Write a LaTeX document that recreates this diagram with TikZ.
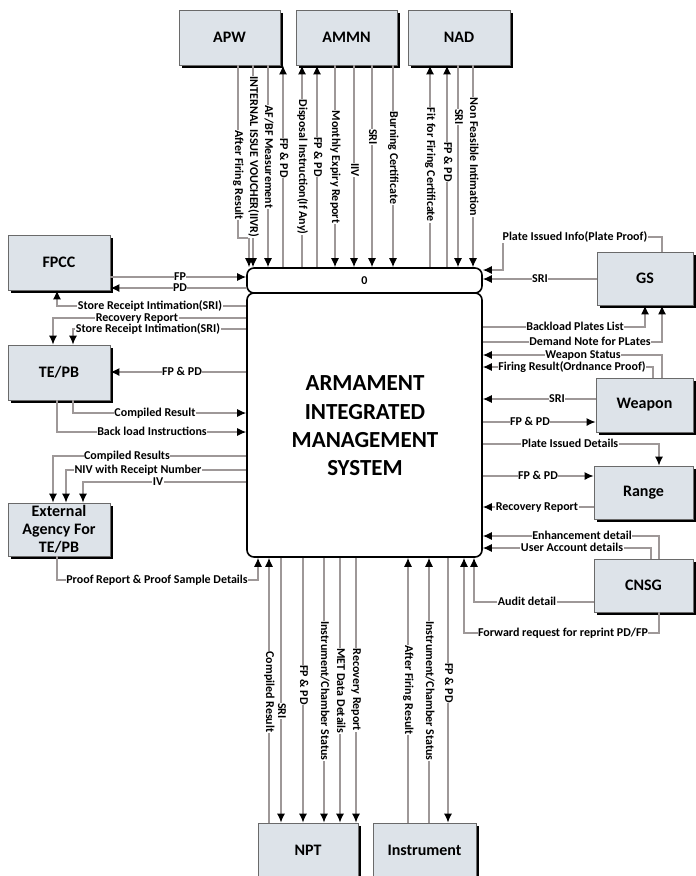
\documentclass[tikz,border=0pt]{standalone}
\usepackage{fontspec}
\setmainfont{Carlito}
\usetikzlibrary{arrows.meta,shadows}
\definecolor{boxfill}{HTML}{DDE3E9}
\definecolor{boxline}{HTML}{6A6A6A}
\definecolor{linegray}{HTML}{9E9898}
\begin{document}
\begin{tikzpicture}[x=1pt,y=-1pt,
  ext/.style={rectangle, draw=boxline, fill=boxfill, line width=0.8pt, inner sep=0pt,
    font=\fontsize{16}{18}\selectfont\bfseries, align=center,
    drop shadow={shadow xshift=3pt, shadow yshift=-3pt, fill=black, opacity=1}},
  proc/.style={rectangle, draw=black, line width=1.6pt, fill=white, rounded corners=7pt, inner sep=0pt},
  flow/.style={draw=linegray, line width=1.2pt, -{Latex[length=9pt,width=8pt,color=black]}},
  lbl/.style={fill=white, inner sep=0.5pt, text height=8pt, text depth=2pt,
    font=\fontsize{12}{12}\selectfont\bfseries, text=black},
  vlbl/.style={lbl, rotate=-90}]
\useasboundingbox (0,0) rectangle (696,876);
\fill[white] (0,0) rectangle (696,876);
% main process
\node[proc, minimum width=235pt, minimum height=264pt] (main) at (364.5,425) {};
\node[proc, minimum width=235pt, minimum height=25pt, font=\fontsize{12}{12}\selectfont\bfseries] (hdr) at (364.5,280.5) {0};
\node[align=center, font=\fontsize{23}{28.3}\selectfont\bfseries] (title) at (365,426) {ARMAMENT\\INTEGRATED\\MANAGEMENT\\SYSTEM};
% external entities
\node[ext, minimum width=101pt, minimum height=55pt] (apw) at (229.5,37.5) {APW};
\node[ext, minimum width=101pt, minimum height=55pt] (ammn) at (346.5,37.5) {AMMN};
\node[ext, minimum width=102pt, minimum height=55pt] (nad) at (459,37.5) {NAD};
\node[ext, minimum width=102pt, minimum height=55pt] (fpcc) at (59,262.5) {FPCC};
\node[ext, minimum width=102pt, minimum height=55pt] (tepb) at (59,372.5) {TE/PB};
\node[ext, minimum width=102pt, minimum height=53pt] (ext) at (59,529.5) {External\\Agency For\\TE/PB};
\node[ext, minimum width=96pt, minimum height=53pt] (gs) at (645,278.5) {GS};
\node[ext, minimum width=97pt, minimum height=54pt] (weapon) at (644.5,405) {Weapon};
\node[ext, minimum width=99pt, minimum height=53pt] (range) at (643.5,492.5) {Range};
\node[ext, minimum width=99pt, minimum height=53pt] (cnsg) at (643.5,585.5) {CNSG};
\node[ext, minimum width=100pt, minimum height=54pt] (npt) at (308,850) {NPT};
\node[ext, minimum width=103pt, minimum height=54pt] (instr) at (424.5,850) {Instrument};
% ---- top flows
\draw[flow] (238,0 |- apw.south) -- (238,238) -- (249,238) -- (249,0 |- hdr.north);
\draw[flow] (253,0 |- apw.south) -- (253,0 |- hdr.north);
\draw[flow] (268,0 |- apw.south) -- (268,0 |- hdr.north);
\draw[flow] (283,0 |- hdr.north) -- (283,0 |- apw.south);
\draw[flow] (302,0 |- hdr.north) -- (302,0 |- ammn.south);
\draw[flow] (317,0 |- hdr.north) -- (317,0 |- ammn.south);
\draw[flow] (335,0 |- ammn.south) -- (335,0 |- hdr.north);
\draw[flow] (354,0 |- ammn.south) -- (354,0 |- hdr.north);
\draw[flow] (372,0 |- ammn.south) -- (372,0 |- hdr.north);
\draw[flow] (393,0 |- ammn.south) -- (393,0 |- hdr.north);
\draw[flow] (430,0 |- hdr.north) -- (430,0 |- nad.south);
\draw[flow] (447,0 |- hdr.north) -- (447,0 |- nad.south);
\draw[flow] (458,0 |- nad.south) -- (458,0 |- hdr.north);
\draw[flow] (473,0 |- nad.south) -- (473,0 |- hdr.north);
\node[vlbl] (t1) at (238,175) {After Firing Result};
\node[vlbl] (t2) at (253,157) {INTERNAL ISSUE VOUCHER(IIVR)};
\node[vlbl] (t3) at (268,157) {AF/BF Measurement};
\node[vlbl] (t4) at (283,158) {FP \& PD};
\node[vlbl] (t5) at (302,167) {Disposal Instruction(If Any)};
\node[vlbl] (t6) at (317,157) {FP \& PD};
\node[vlbl] (t7) at (335,167) {Monthly Expiry Report};
\node[vlbl] (t8) at (354,170) {IIV};
\node[vlbl] (t9) at (372,137) {SRI};
\node[vlbl] (t10) at (393,158) {Burning Certificate};
\node[vlbl] (t11) at (430,165) {Fit for Firing Certificate};
\node[vlbl] (t12) at (447,162) {FP \& PD};
\node[vlbl] (t13) at (458,117) {SRI};
\node[vlbl] (t14) at (473,157) {Non Feasible Intimation};
% ---- left flows
\draw[flow] (fpcc.east |- 0,277) -- (hdr.west |- 0,277);
\draw[flow] (hdr.west |- 0,288) -- (fpcc.east |- 0,288);
\draw[flow] (main.west |- 0,306) -| (57,0 |- fpcc.south);
\draw[flow] (main.west |- 0,318) -| (53,0 |- tepb.north);
\draw[flow] (main.west |- 0,329) -| (73,0 |- tepb.north);
\draw[flow] (main.west |- 0,372) -- (tepb.east |- 0,372);
\draw[flow] (73,0 |- tepb.south) |- (main.west |- 0,413);
\draw[flow] (57,0 |- tepb.south) |- (main.west |- 0,432);
\draw[flow] (main.west |- 0,456) -| (53,0 |- ext.north);
\draw[flow] (main.west |- 0,470) -| (66,0 |- ext.north);
\draw[flow] (main.west |- 0,482) -| (83,0 |- ext.north);
\draw[flow] (57,0 |- ext.south) |- (258,580) -- (258,0 |- main.south);
\node[lbl] (l1) at (180,277) {FP};
\node[lbl] (l2) at (180,288) {PD};
\node[lbl] (l3) at (150,306) {Store Receipt Intimation(SRI)};
\node[lbl] (l4) at (137,318) {Recovery Report};
\node[lbl] (l5) at (148,329) {Store Receipt Intimation(SRI)};
\node[lbl] (l6) at (182,372) {FP \& PD};
\node[lbl] (l7) at (155,413) {Compiled Result};
\node[lbl] (l8) at (152,432) {Back load Instructions};
\node[lbl] (l9) at (127,456) {Compiled Results};
\node[lbl] (l10) at (138,470) {NIV with Receipt Number};
\node[lbl] (l11) at (158,482) {IV};
\node[lbl] (l12) at (157,580) {Proof Report \& Proof Sample Details};
% ---- right flows
\draw[flow] (662,0 |- gs.north) |- (503,237) -- (503,270) -- (hdr.east |- 0,270);
\draw[flow] (gs.west |- 0,279) -- (hdr.east |- 0,279);
\draw[flow] (main.east |- 0,327) -| (645,0 |- gs.south);
\draw[flow] (main.east |- 0,342) -| (662,0 |- gs.south);
\draw[flow] (662,0 |- weapon.north) |- (main.east |- 0,355);
\draw[flow] (653,0 |- weapon.north) |- (main.east |- 0,367);
\draw[flow] (weapon.west |- 0,399) -- (main.east |- 0,399);
\draw[flow] (main.east |- 0,422) -- (weapon.west |- 0,422);
\draw[flow] (main.east |- 0,444) -| (659,0 |- range.north);
\draw[flow] (main.east |- 0,476) -- (range.west |- 0,476);
\draw[flow] (range.west |- 0,507) -- (main.east |- 0,507);
\draw[flow] (659,0 |- cnsg.north) |- (main.east |- 0,536);
\draw[flow] (651,0 |- cnsg.north) |- (main.east |- 0,548);
\draw[flow] (cnsg.west |- 0,602) -| (474,0 |- main.south);
\draw[flow] (659,0 |- cnsg.south) |- (464,633) -- (464,0 |- main.south);
\node[lbl] (r1) at (575,237) {Plate Issued Info(Plate Proof)};
\node[lbl] (r2) at (540,279) {SRI};
\node[lbl] (r3) at (575,327) {Backload Plates List};
\node[lbl] (r4) at (590,342) {Demand Note for PLates};
\node[lbl] (r5) at (583,355) {Weapon Status};
\node[lbl] (r6) at (572,367) {Firing Result(Ordnance Proof)};
\node[lbl] (r7) at (557,399) {SRI};
\node[lbl] (r8) at (530,422) {FP \& PD};
\node[lbl] (r9) at (570,444) {Plate Issued Details};
\node[lbl] (r10) at (538,476) {FP \& PD};
\node[lbl] (r11) at (537,507) {Recovery Report};
\node[lbl] (r12) at (582,536) {Enhancement detail};
\node[lbl] (r13) at (572,548) {User Account details};
\node[lbl] (r14) at (527,602) {Audit detail};
\node[lbl] (r15) at (563,633) {Forward request for reprint PD/FP};
% ---- bottom flows
\draw[flow] (269,0 |- npt.north) -- (269,0 |- main.south);
\draw[flow] (281,0 |- main.south) -- (281,0 |- npt.north);
\draw[flow] (303,0 |- main.south) -- (303,0 |- npt.north);
\draw[flow] (324,0 |- main.south) -- (324,0 |- npt.north);
\draw[flow] (340,0 |- main.south) -- (340,0 |- npt.north);
\draw[flow] (356,0 |- main.south) -- (356,0 |- npt.north);
\draw[flow] (408,0 |- instr.north) -- (408,0 |- main.south);
\draw[flow] (429,0 |- instr.north) -- (429,0 |- main.south);
\draw[flow] (448,0 |- main.south) -- (448,0 |- instr.north);
\node[vlbl] (b1) at (269,692) {Compiled Result};
\node[vlbl] (b2) at (281,711) {SRI};
\node[vlbl] (b3) at (303,685) {FP \& PD};
\node[vlbl] (b4) at (324,691) {Instrument/Chamber Status};
\node[vlbl] (b5) at (340,691) {MET Data Details};
\node[vlbl] (b6) at (356,690) {Recovery Report};
\node[vlbl] (b7) at (408,690) {After Firing Result};
\node[vlbl] (b8) at (429,691) {Instrument/Chamber Status};
\node[vlbl] (b9) at (448,683) {FP \& PD};
\end{tikzpicture}
\end{document}
